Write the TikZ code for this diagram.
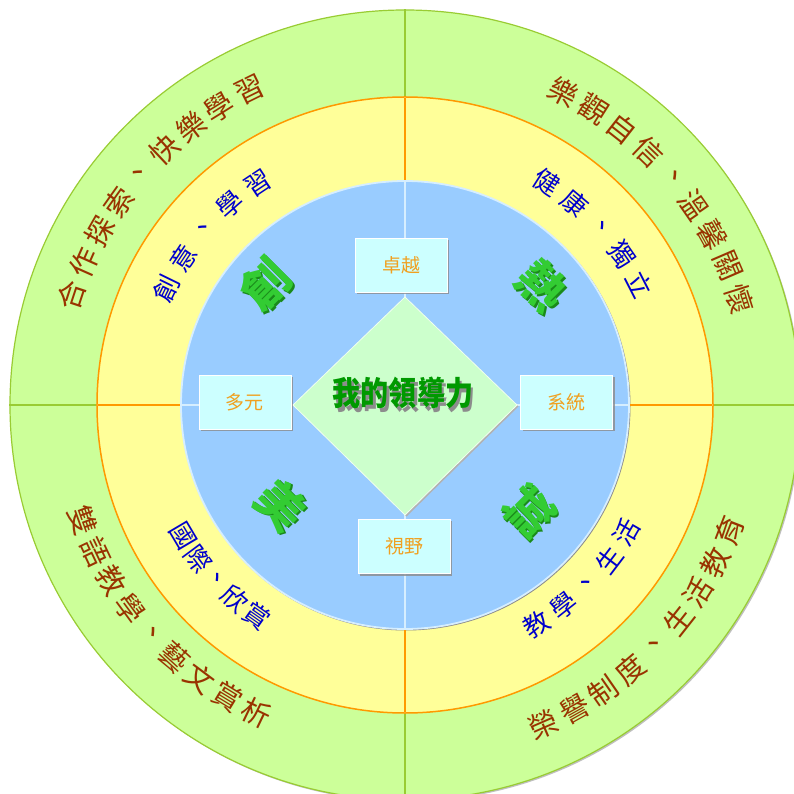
\documentclass[tikz,border=0pt]{standalone}
\usepackage{fontspec}
\newfontfamily\cjk{Noto Sans CJK TC}
\usetikzlibrary{shadows}
\definecolor{ogreen}{HTML}{CCFF99}
\definecolor{ogreenline}{HTML}{99CC33}
\definecolor{yel}{HTML}{FFFF99}
\definecolor{orangeline}{HTML}{FF9900}
\definecolor{blu}{HTML}{99CCFF}
\definecolor{bluline}{HTML}{D6EEFF}
\definecolor{dia}{HTML}{CCFFCC}
\definecolor{boxc}{HTML}{CCFFFF}
\definecolor{boxtext}{HTML}{F0A020}
\definecolor{brown}{HTML}{993300}
\definecolor{innerblue}{HTML}{0000CC}
\definecolor{biggreen}{HTML}{33CC33}
\definecolor{biggreensh}{HTML}{1A8A1A}
\definecolor{titlegreen}{HTML}{009900}
\definecolor{titlesh}{HTML}{8C8C8C}
\newcommand\arctext[7]{%
  \foreach \c [count=\i from 0] in {#2} {%
    \pgfmathsetmacro\ang{#3+#4*\i}%
    \pgfmathsetmacro\rot{\ang+#7}%
    \node[#6,rotate=\rot] (#1-\i) at (\ang:#5) {\c};
  }%
}
\newcommand\bigchar[7]{%
  \node[bigch,rotate=#4] (#1) at (#2,#3)
    {\makebox[0pt][l]{\hspace{#5pt}\raisebox{#6pt}{\textcolor{biggreensh}{#7}}}\textcolor{biggreen}{#7}};
}
\begin{document}
\begin{tikzpicture}[x=1pt,y=1pt,
  outertxt/.style={font=\cjk\fontsize{29}{29}\selectfont, text=brown, inner sep=-4pt},
  innertxt/.style={font=\cjk\fontsize{26}{26}\selectfont, text=innerblue, inner sep=-4pt},
  boxst/.style={minimum width=92, minimum height=54, fill=boxc, draw=white, line width=0.6pt,
    text=boxtext, font=\cjk\fontsize{19}{19}\selectfont,
    drop shadow={shadow xshift=2pt, shadow yshift=-2pt, fill=black!45, opacity=0.8}},
  bigch/.style={font=\cjk\bfseries\fontsize{47}{47}\selectfont, inner sep=0pt},
  crossline/.style={line width=1.2pt}]
\useasboundingbox (-405,-389) rectangle (389,405);
\clip (-405,-389) rectangle (389,405);
\fill[white] (-405,-389) rectangle (389,405);
% rings
\fill[black!25] (1.5,-1.5) circle (395pt);
\filldraw[fill=ogreen, draw=ogreenline, line width=1.2pt] (0,0) circle (395pt);
\filldraw[fill=yel, draw=orangeline, line width=1.5pt] (0,0) circle (308pt);
\fill[black!45] (1,-1) circle (224.5pt);
\filldraw[fill=blu, draw=bluline, line width=1.8pt] (0,0) circle (224pt);
% cross lines
\foreach \a in {0,90,180,270}{
  \draw[crossline, bluline] (0,0) -- (\a:223);
  \draw[crossline, orangeline] (\a:225) -- (\a:307);
  \draw[crossline, ogreenline] (\a:309) -- (\a:396);
}
% diamond
\fill[black!30] (1.5,106.5) -- (113.5,-1.5) -- (1.5,-111.5) -- (-110.5,-1.5) -- cycle;
\filldraw[fill=dia, draw=white!70!dia, line width=0.8pt] (0,108) -- (112,0) -- (0,-110) -- (-112,0) -- cycle;
% title
\node[font=\cjk\bfseries\fontsize{33}{33}\selectfont, inner sep=0pt] (title) at (-2,10)
  {\scalebox{0.85}[1]{\makebox[0pt][l]{\hspace{3pt}\raisebox{-4pt}{\textcolor{titlesh}{我的領導力}}}\textcolor{titlegreen}{我的領導力}}};
% boxes
\node[boxst] (b1) at (-4,140) {卓越};
\node[boxst] (b2) at (-160,2.5) {多元};
\node[boxst] (b3) at (161.5,2.5) {系統};
\node[boxst] (b4) at (-1,-141.5) {視野};
% big green characters
\bigchar{g1}{-139}{120}{45}{0}{-2.6}{創}
\bigchar{g2}{137}{119}{-45}{2.6}{0}{熱}
\bigchar{g3}{-124}{-100}{-45}{2.6}{0}{美}
\bigchar{g4}{125}{-107}{45}{0}{-2.6}{誠}
% outer ring text
\arctext{o1}{合,作,探,索,、,快,樂,學,習}{161.7}{-5.68}{351}{outertxt}{-90}
\arctext{o2}{樂,觀,自,信,、,溫,馨,關,懷}{63.2}{-5.7}{351}{outertxt}{-90}
\arctext{o3}{榮,譽,制,度,、,生,活,教,育}{-66.5}{5.65}{348}{outertxt}{90}
\arctext{o4}{雙,語,教,學,、,藝,文,賞,析}{199.8}{5.55}{342}{outertxt}{90}
% inner ring text
\arctext{i1}{創,意,、,學,習}{154}{-7.6}{266}{innertxt}{-90}
\arctext{i2}{健,康,、,獨,立}{57.5}{-7.6}{264}{innertxt}{-90}
\arctext{i3}{教,學,、,生,活}{-59.1}{7.3}{256}{innertxt}{90}
\arctext{i4}{國,際,、,欣,賞}{210.6}{6.05}{258}{innertxt}{90}
\end{tikzpicture}
\end{document}
